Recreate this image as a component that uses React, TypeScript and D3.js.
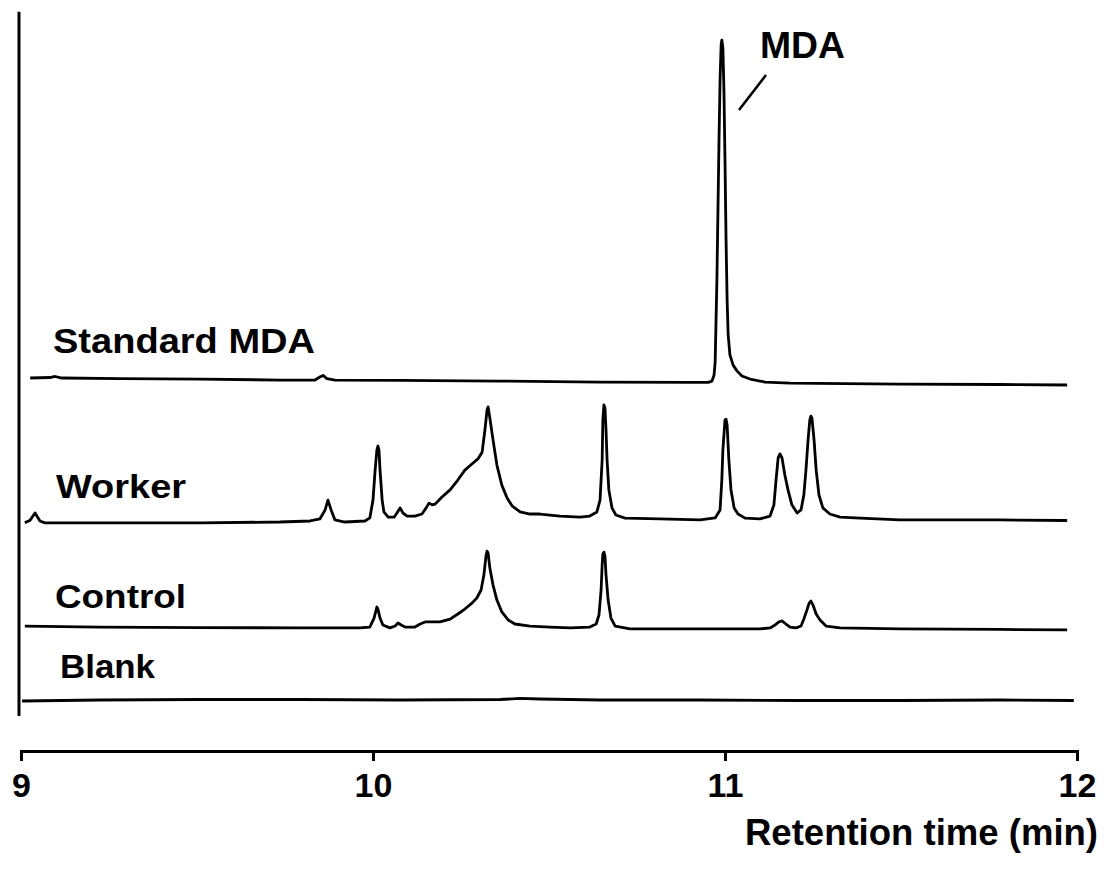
import React, { useEffect, useRef } from "react";
import * as d3 from "d3";

// Chromatogram of the MDA derivative: retention time (min) vs detector response (arbitrary units)
const WIDTH = 1104;
const HEIGHT = 872;

const xTicks = [9, 10, 11, 12];
const traceNames = ["Standard MDA", "Worker", "Control", "Blank"];
// vertical offsets used to stack the four traces (response units)
const traceOffsets = [94, 53, 21, 0];

// [retention time (min), response above own baseline]
const standardMDA: [number, number][] = [
  [9.026, 0.7], [9.082, 0.85], [9.097, 1.15], [9.116, 0.7], [9.281, 0.55], [9.509, 0.4],
  [9.736, 0.1], [9.835, 0.1], [9.849, 1.0], [9.858, 1.45], [9.869, 0.55], [9.892, 0.1],
  [10.077, 0.0], [10.361, -0.2], [10.645, -0.5], [10.901, -0.6], [10.952, -0.6],
  [10.963, -0.2], [10.969, 1.6], [10.972, 5.4], [10.974, 14.8], [10.977, 29.5],
  [10.98, 50.1], [10.983, 70.7], [10.986, 88.4], [10.989, 98.6], [10.991, 100.1],
  [10.994, 97.8], [10.997, 85.4], [11.0, 64.8], [11.003, 41.3], [11.006, 23.6],
  [11.009, 13.4], [11.014, 7.5], [11.023, 4.5], [11.034, 2.8], [11.048, 1.3],
  [11.071, 0.4], [11.114, -0.5], [11.185, -0.8], [11.497, -1.1], [11.781, -1.2],
  [11.972, -1.35],
];

const worker: [number, number][] = [
  [9.011, -0.9], [9.026, -0.1], [9.034, 1.1], [9.04, 2.0], [9.045, 1.1], [9.054, -0.35],
  [9.068, -0.9], [9.224, -0.9], [9.509, -0.9], [9.736, -0.65], [9.821, -0.35],
  [9.849, 0.25], [9.864, 2.9], [9.872, 5.8], [9.881, 2.9], [9.892, -0.05], [9.92, -0.65],
  [9.977, -0.35], [9.991, 0.55], [10.0, 5.8], [10.006, 14.6], [10.011, 20.5],
  [10.014, 21.7], [10.017, 20.5], [10.02, 14.6], [10.026, 5.8], [10.031, 2.3],
  [10.043, 0.8], [10.06, 0.8], [10.068, 2.0], [10.077, 3.5], [10.085, 2.0], [10.097, 1.1],
  [10.119, 1.1], [10.139, 1.7], [10.151, 3.5], [10.159, 4.9], [10.168, 4.4],
  [10.176, 4.6], [10.196, 6.7], [10.219, 8.8], [10.241, 11.7], [10.261, 14.6],
  [10.281, 16.4], [10.298, 17.9], [10.31, 19.9], [10.318, 26.4], [10.324, 32.3],
  [10.327, 33.2], [10.332, 29.9], [10.341, 23.5], [10.352, 16.1], [10.366, 10.2],
  [10.381, 6.4], [10.395, 4.1], [10.418, 2.3], [10.446, 1.7], [10.474, 1.7],
  [10.531, 1.1], [10.588, 0.8], [10.616, 1.1], [10.636, 2.3], [10.645, 5.8],
  [10.651, 17.6], [10.653, 29.4], [10.656, 33.8], [10.659, 32.9], [10.662, 26.4],
  [10.665, 17.6], [10.67, 8.8], [10.679, 3.5], [10.69, 1.4], [10.716, 0.5],
  [10.815, 0.25], [10.929, -0.05], [10.972, 0.55], [10.986, 2.9], [10.991, 11.7],
  [10.994, 20.5], [11.0, 29.4], [11.003, 29.6], [11.006, 27.9], [11.011, 17.6],
  [11.017, 8.8], [11.026, 3.5], [11.037, 1.7], [11.057, 0.5], [11.099, 0.25],
  [11.128, 1.1], [11.139, 4.4], [11.145, 11.7], [11.151, 18.2], [11.156, 19.4],
  [11.162, 18.2], [11.17, 13.2], [11.179, 8.8], [11.19, 4.4], [11.205, 2.0],
  [11.216, 2.9], [11.224, 7.3], [11.23, 14.6], [11.236, 23.5], [11.241, 29.4],
  [11.244, 30.5], [11.247, 29.9], [11.253, 23.5], [11.259, 14.6], [11.267, 7.3],
  [11.278, 3.5], [11.298, 1.7], [11.327, 0.8], [11.384, 0.5], [11.497, -0.05],
  [11.781, -0.05], [11.972, -0.2],
];

const control: [number, number][] = [
  [9.011, 0.75], [9.224, 0.45], [9.509, 0.3], [9.793, 0.2], [9.963, 0.2], [9.991, 0.45],
  [10.003, 3.1], [10.009, 5.5], [10.011, 6.35], [10.014, 5.75], [10.02, 3.1],
  [10.028, 1.05], [10.048, 0.2], [10.063, 0.75], [10.071, 1.65], [10.08, 1.05],
  [10.091, 0.45], [10.119, 0.45], [10.134, 1.35], [10.148, 1.95], [10.19, 1.95],
  [10.219, 2.8], [10.241, 4.3], [10.261, 5.75], [10.281, 7.5], [10.295, 9.0],
  [10.307, 11.35], [10.315, 15.75], [10.321, 21.35], [10.324, 22.8], [10.327, 22.2],
  [10.332, 17.8], [10.341, 12.8], [10.352, 8.4], [10.366, 4.9], [10.384, 2.55],
  [10.403, 1.35], [10.446, 0.75], [10.503, 0.45], [10.56, 0.2], [10.616, 0.45],
  [10.634, 1.35], [10.642, 4.0], [10.648, 11.35], [10.651, 18.7], [10.653, 21.95],
  [10.656, 22.5], [10.659, 21.35], [10.662, 15.75], [10.668, 8.4], [10.676, 3.1],
  [10.688, 0.75], [10.73, -0.1], [10.929, -0.1], [11.099, -0.1], [11.128, 0.2],
  [11.142, 1.05], [11.153, 1.95], [11.162, 2.25], [11.173, 1.35], [11.185, 0.45],
  [11.202, 0.2], [11.216, 0.75], [11.224, 2.8], [11.233, 5.5], [11.239, 7.5],
  [11.244, 8.1], [11.25, 6.95], [11.259, 4.3], [11.27, 2.55], [11.287, 0.75],
  [11.327, 0.2], [11.497, -0.1], [11.781, -0.25], [11.972, -0.4],
];

const blank: [number, number][] = [
  [9.003, -0.3], [9.224, 0], [9.509, 0.15], [9.793, 0.15], [10.077, 0], [10.361, 0.15],
  [10.418, 0.45], [10.474, 0.3], [10.645, 0], [10.929, 0], [11.213, -0.15],
  [11.497, -0.15], [11.781, 0], [11.991, -0.15],
];

const traces = [standardMDA, worker, control, blank];

const FONT = "'Liberation Sans', Arial, Helvetica, sans-serif";

export default function App() {
  const axisRef = useRef<SVGGElement>(null);

  const x = d3.scaleLinear().domain([9, 12]).range([21, 1077]);
  const y = d3.scaleLinear().domain([0, 200]).range([700, 20]);

  const line = (offset: number) =>
    d3
      .line<[number, number]>()
      .x((d) => x(d[0]))
      .y((d) => y(d[1] + offset));

  useEffect(() => {
    if (!axisRef.current) return;
    const g = d3.select(axisRef.current);
    g.selectAll("*").remove();
    g.call(
      d3
        .axisBottom(x)
        .tickValues(xTicks)
        .tickFormat(d3.format("d"))
        .tickSize(10)
        .tickPadding(12)
    );
    g.select(".domain").attr("stroke", "#000").attr("stroke-width", 3);
    g.selectAll(".tick line").attr("stroke", "#000").attr("stroke-width", 3);
    g.selectAll(".tick text")
      .attr("fill", "#000")
      .attr("font-family", FONT)
      .attr("font-weight", "bold")
      .attr("font-size", 34);
  }, []);

  const labelPos = [
    { x: 53, y: 353, len: 262, size: 35 },
    { x: 56, y: 498, len: 130, size: 33 },
    { x: 55, y: 608, len: 131, size: 33 },
    { x: 60, y: 678, len: 95, size: 33 },
  ];

  return (
    <svg
      width={WIDTH}
      height={HEIGHT}
      style={{ display: "block", background: "#fff", position: "absolute", left: 0, top: 0 }}
    >
      <rect width={WIDTH} height={HEIGHT} fill="#fff" />
      {/* vertical frame line */}
      <line x1={x(9) - 2} x2={x(9) - 2} y1={y(202.4)} y2={y(-4.7)} stroke="#000" strokeWidth={3} />

      {traces.map((data, i) => (
        <path
          key={traceNames[i]}
          d={line(traceOffsets[i])(data) ?? ""}
          fill="none"
          stroke="#000"
          strokeWidth={2.8}
          strokeLinejoin="round"
        />
      ))}

      {traceNames.map((name, i) => (
        <text
          key={name}
          x={labelPos[i].x}
          y={labelPos[i].y}
          fontFamily={FONT}
          fontWeight="bold"
          fontSize={labelPos[i].size}
          textLength={labelPos[i].len}
          lengthAdjust="spacingAndGlyphs"
          fill="#000"
        >
          {name}
        </text>
      ))}

      {/* peak annotation */}
      <text
        x={760}
        y={58}
        fontFamily={FONT}
        fontWeight="bold"
        fontSize={36}
        textLength={85}
        lengthAdjust="spacingAndGlyphs"
        fill="#000"
      >
        MDA
      </text>
      <line x1={739} y1={110} x2={766} y2={75} stroke="#000" strokeWidth={2.5} />

      <g ref={axisRef} transform="translate(0,751)" />

      <text
        x={1098}
        y={845}
        textAnchor="end"
        fontFamily={FONT}
        fontWeight="bold"
        fontSize={37}
        textLength={353}
        lengthAdjust="spacingAndGlyphs"
        fill="#000"
      >
        Retention time (min)
      </text>
    </svg>
  );
}
